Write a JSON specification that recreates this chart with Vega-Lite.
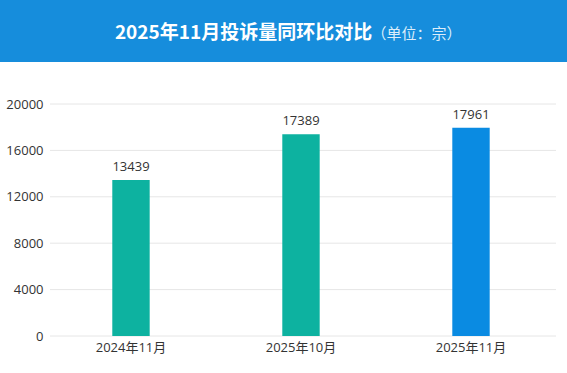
{
  "$schema": "https://vega.github.io/schema/vega-lite/v6.json",
  "width": 567,
  "height": 336,
  "autosize": {"type": "none"},
  "padding": {"left": 0, "top": 0, "right": 0, "bottom": 37},
  "background": "#ffffff",
  "config": {
    "font": "Open Sans, Noto Sans CJK SC, sans-serif",
    "view": {"stroke": null}
  },
  "data": {"values": [
    {"month": "2024年11月", "count": 13439, "group": "past"},
    {"month": "2025年10月", "count": 17389, "group": "past"},
    {"month": "2025年11月", "count": 17961, "group": "current"}
  ]},
  "encoding": {
    "x": {
      "field": "month", "type": "nominal", "sort": null,
      "scale": {"domain": ["2024年11月", "2025年10月", "2025年11月"], "paddingInner": 0, "paddingOuter": 0.1676, "align": 0.807},
      "axis": {"title": null, "labelAngle": 0, "ticks": false, "domain": false, "labelFontSize": 13, "labelColor": "#333333", "labelPadding": 5}
    }
  },
  "layer": [
    {
      "mark": {"type": "rect", "color": "#168ddc"},
      "encoding": {
        "x": null,
        "y": {"datum": 23621, "type": "quantitative", "scale": {"domain": [0, 28966], "nice": false, "zero": true},
              "axis": {"title": null, "format": "d", "values": [0, 4000, 8000, 12000, 16000, 20000], "offset": -50, "grid": false, "ticks": false, "domain": false, "labelFontSize": 13, "labelColor": "#333333", "labelPadding": 7}},
        "y2": {"datum": 28966}
      }
    },
    {
      "data": {"values": [{"g": 0}, {"g": 4000}, {"g": 8000}, {"g": 12000}, {"g": 16000}, {"g": 20000}]},
      "mark": {"type": "rule", "color": "#e6e6e6", "strokeWidth": 1},
      "encoding": {
        "x": {"datum": "2024年11月", "bandPosition": 0.0235},
        "x2": {"datum": "2025年11月", "bandPosition": 1},
        "y": {"field": "g", "type": "quantitative"}
      }
    },
    {
      "mark": {"type": "bar", "width": {"band": 0.22}},
      "encoding": {
        "y": {"field": "count", "type": "quantitative"},
        "color": {"field": "group", "type": "nominal", "scale": {"domain": ["past", "current"], "range": ["#0db2a0", "#0a8be2"]}, "legend": null}
      }
    },
    {
      "mark": {"type": "text", "fontSize": 13, "color": "#333333", "baseline": "alphabetic", "dy": -9},
      "encoding": {
        "y": {"field": "count", "type": "quantitative"},
        "text": {"field": "count", "type": "quantitative", "format": "d"}
      }
    },
    {
      "data": {"values": [{"title": "2025年11月投诉量同环比对比", "unit": "（单位：宗）"}]},
      "layer": [
        {
          "mark": {"type": "text", "fontSize": 19, "fontWeight": "bold", "color": "#ffffff", "align": "center", "baseline": "middle", "dx": -40, "font": "Noto Sans CJK SC"},
          "encoding": {"x": null, "y": {"datum": 26121, "type": "quantitative"}, "text": {"field": "title"}}
        },
        {
          "mark": {"type": "text", "fontSize": 15, "color": "#dcedfa", "align": "left", "baseline": "middle", "dx": 88, "dy": 1, "font": "Noto Sans CJK SC"},
          "encoding": {"x": null, "y": {"datum": 26121, "type": "quantitative"}, "text": {"field": "unit"}}
        }
      ]
    }
  ]
}
